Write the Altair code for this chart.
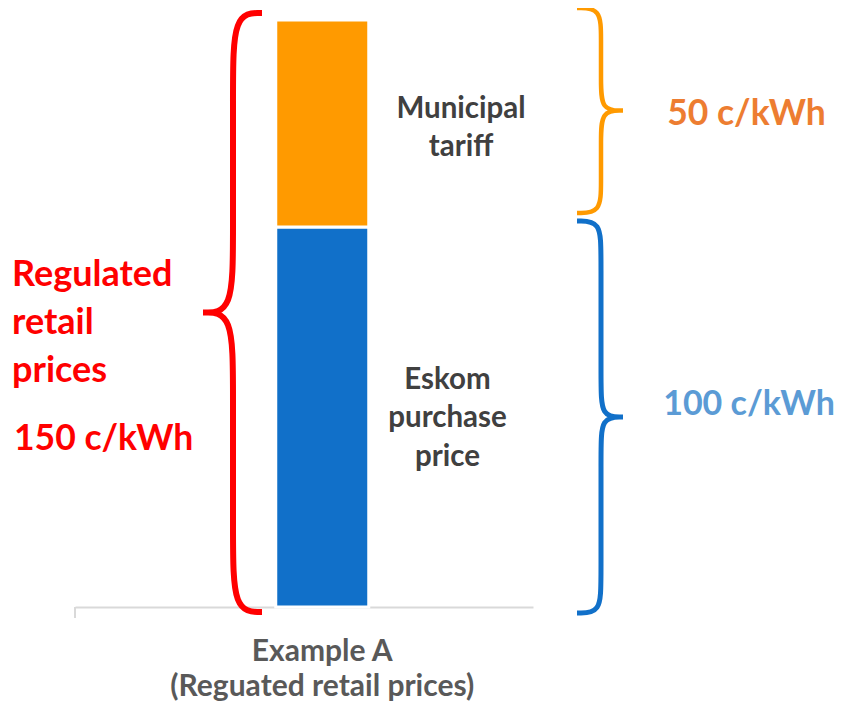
import altair as alt
import pandas as pd

# ---------------- data ----------------
category = ["Example A\n(Reguated retail prices)"]
segments = ["Eskom purchase price", "Municipal tariff"]
segment_values = [100, 54.5]          # heights as drawn in the picture
segment_text = ["Eskom\npurchase\nprice", "Municipal\ntariff"]
value_text = ["100 c/kWh", "50 c/kWh"]
total_title = "Regulated\nretail\nprices"
total_text = "150 c/kWh"

# ---------------- styles ----------------
FONT = "Lato"
BLUE = "#1170C9"
ORANGE = "#FF9A00"
RED = "#FF0000"
ORANGE_TXT = "#ED7D31"
BLUE_TXT = "#5B9BD5"
GRAY_TXT = "#404040"
AXIS_TXT = "#595959"
AXIS_LINE = "#D9D9D9"

# ---------------- layout (x in layout units, y in value units) ----------------
X0, X1 = 75, 533          # layout-unit extent of the plot area
Y_MAX = 157.1
total = sum(segment_values)
base_top = segment_values[0]

bar_df = pd.DataFrame({
    "category": category * len(segments),
    "segment": segments,
    "value": segment_values,
    "k": list(range(len(segments))),
})

y_scale = alt.Scale(domain=[0, Y_MAX], nice=False, zero=True)
x_lay = alt.Scale(domain=[X0, X1], nice=False, zero=False)

bars = alt.Chart(bar_df).mark_bar(stroke="white", strokeWidth=3).encode(
    x=alt.X(
        "category:N", title=None,
        scale=alt.Scale(paddingInner=0.4904, paddingOuter=1, align=0.55),
        axis=alt.Axis(
            labelExpr="split(datum.label, '\\n')", labelAngle=0, ticks=False,
            domainColor=AXIS_LINE, domainWidth=2, labelFont=FONT,
            labelFontWeight="bold", labelFontSize=30, labelColor=AXIS_TXT,
            labelLineHeight=35, labelBaseline="alphabetic", labelPadding=53,
            labelLimit=600, labelOverlap=False, labelBound=False,
        ),
    ),
    y=alt.Y("value:Q", stack="zero", scale=y_scale, axis=None),
    color=alt.Color("segment:N", scale=alt.Scale(domain=segments, range=[BLUE, ORANGE]), legend=None),
    order=alt.Order("k:Q"),
)


def brace(end_x, stem_x, tip_x, lo, hi, curve):
    mid = (lo + hi) / 2
    xs = [end_x, stem_x, stem_x, stem_x, stem_x, tip_x, tip_x, tip_x,
          stem_x, stem_x, stem_x, stem_x, end_x]
    ys = [hi, hi, hi - curve, mid + curve, mid, mid, mid, mid,
          mid, mid - curve, lo + curve, lo, lo]
    return pd.DataFrame({"i": list(range(len(xs))), "x": xs, "y": ys})


def brace_layer(df, color, width):
    return alt.Chart(df).mark_line(
        interpolate="basis", color=color, strokeWidth=width, strokeCap="butt"
    ).encode(
        x=alt.X("x:Q", scale=x_lay, axis=None),
        y=alt.Y("y:Q", scale=y_scale, axis=None),
        order="i:Q",
    )


red_brace = brace_layer(brace(262, 233, 203, -1.3, total + 1.8, 20), RED, 6)
orange_brace = brace_layer(brace(577, 601, 623, base_top + 3.7, total + 3.1, 8), ORANGE, 4.5)
blue_brace = brace_layer(brace(577, 601, 623, -1.6, base_top + 1.6, 9), BLUE, 5)


def text_layer(xs, ys, texts, color, size, lh, align):
    df = pd.DataFrame({"x": xs, "y": ys, "t": texts})
    return alt.Chart(df).mark_text(
        align=align, baseline="alphabetic", font=FONT, fontWeight="bold",
        fontSize=size, color=color, lineBreak="\n", lineHeight=lh,
    ).encode(
        x=alt.X("x:Q", scale=x_lay, axis=None),
        y=alt.Y("y:Q", scale=y_scale, axis=None),
        text="t:N",
    )


seg_labels = text_layer([447.5, 461], [57.4, 128.7], segment_text, GRAY_TXT, 29.5, 38.5, "center")
orange_val = text_layer([746.5], [126.8], [value_text[1]], ORANGE_TXT, 35.5, 40, "center")
blue_val = text_layer([749], [50.5], [value_text[0]], BLUE_TXT, 34, 40, "center")
red_title = text_layer([12], [84.5], [total_title], RED, 36, 48, "left")
red_val = text_layer([14], [41.3], [total_text], RED, 35.5, 40, "left")

tick_df = pd.DataFrame({"x": [X0], "y": [0], "y2": [-2.9]})
left_tick = alt.Chart(tick_df).mark_rule(color=AXIS_LINE, strokeWidth=2).encode(
    x=alt.X("x:Q", scale=x_lay, axis=None),
    y=alt.Y("y:Q", scale=y_scale, axis=None),
    y2="y2:Q",
)

chart = alt.layer(
    bars, left_tick, red_brace, orange_brace, blue_brace,
    seg_labels, orange_val, blue_val, red_title, red_val,
).resolve_scale(x="independent").properties(
    width=X1 - X0, height=597,
    padding={"left": 67, "top": 2, "right": 305, "bottom": 99},
    autosize=alt.AutoSizeParams(type="none"),
    background="white",
).configure_view(stroke=None)

chart.save("out.html", embed_options={"renderer": "svg", "actions": False})
